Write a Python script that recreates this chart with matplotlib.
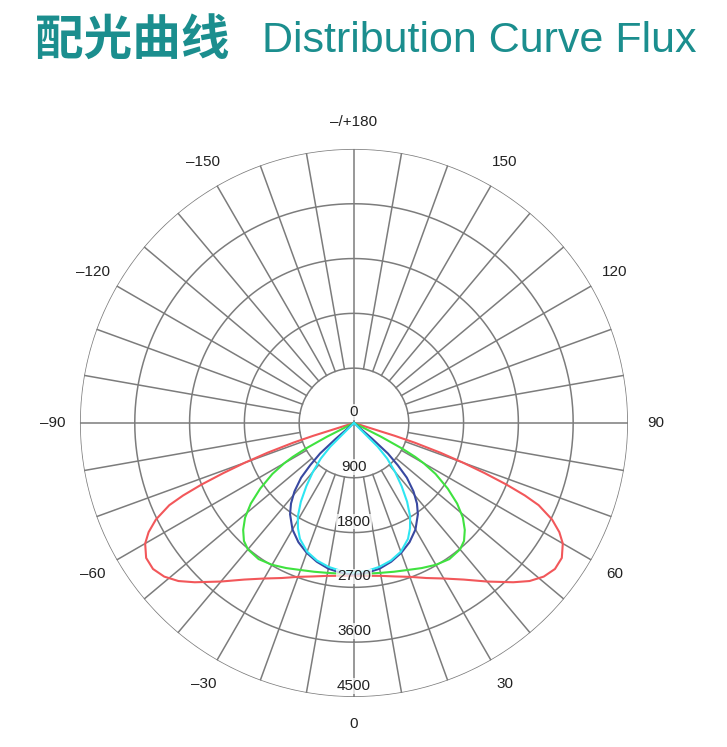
import numpy as np
import matplotlib
matplotlib.use("Agg")
import matplotlib.pyplot as plt

# luminous intensity (cd) vs angle from nadir, one half of each symmetric curve
red_ang = [0, 5, 10, 15, 20, 25, 30, 35, 40, 45, 48, 51, 54, 57, 60, 62, 64, 66, 67,
           68, 69, 70, 71, 72, 72.5, 73]
red_cd = [2510, 2520, 2550, 2610, 2690, 2810, 2950, 3140, 3400, 3700, 3880, 4010, 4080,
          4070, 3960, 3820, 3620, 3320, 3050, 2700, 2300, 1900, 1500, 1050, 700, 0]

green_ang = [0, 5, 10, 15, 20, 25, 30, 35, 40, 43, 46, 49, 52, 55, 58, 60, 61, 62, 63, 63.5]
green_cd = [2480, 2485, 2500, 2530, 2570, 2630, 2690, 2730, 2710, 2650, 2530, 2370, 2150,
            1880, 1580, 1320, 1150, 900, 500, 0]

blue_ang = [0, 5, 10, 15, 20, 25, 30, 35, 38, 41, 44, 46, 48, 49, 49.5]
blue_cd = [2490, 2470, 2430, 2360, 2270, 2160, 2020, 1830, 1680, 1490, 1250, 1000, 750, 400, 0]

cyan_ang = [0, 5, 10, 15, 20, 25, 28, 31, 34, 37, 40, 43, 45, 46.5]
cyan_cd = [2460, 2440, 2400, 2340, 2250, 2100, 1960, 1790, 1560, 1300, 1050, 800, 550, 0]

rings = [900, 1800, 2700, 3600, 4500]
ring_labels = ["0", "900", "1800", "2700", "3600", "4500"]
ang_ticks = [0, 30, 60, 90, 120, 150, 180, -150, -120, -90, -60, -30]
ang_labels = ["0", "30", "60", "90", "120", "150", "\u2013/+180",
              "\u2013150", "\u2013120", "\u201390", "\u201360", "\u201330"]

grid_col = "#7c7c7c"
teal = "#1b8e8e"

fig = plt.figure(figsize=(7.27, 7.47), dpi=100)
ax = fig.add_axes([0.110, 0.067, 0.7538, 0.7336], projection="polar")
ax.set_theta_zero_location("S")
ax.set_theta_direction(1)
ax.set_ylim(0, 4500)
ax.grid(False)
ax.set_xticks([])
ax.set_yticks([])
ax.spines["polar"].set_visible(False)

# grid: circles, spokes every 10 deg starting at the first ring, axes through the centre
t = np.linspace(0, 2 * np.pi, 721)
for r in rings:
    ax.plot(t, np.full_like(t, r), color=grid_col, lw=1.1, zorder=1)
for a in range(0, 360, 10):
    r0 = 0 if a % 90 == 0 else rings[0]
    ax.plot([np.deg2rad(a)] * 2, [r0, rings[-1]], color=grid_col, lw=1.1, zorder=1)

def mirror(ang, cd):
    a = np.array(ang, dtype=float)
    c = np.array(cd, dtype=float)
    full_a = np.concatenate([-a[::-1], a[1:]])
    full_c = np.concatenate([c[::-1], c[1:]])
    return np.deg2rad(full_a), full_c

for ang, cd, col in [(red_ang, red_cd, "#f2575a"),
                     (green_ang, green_cd, "#3fe23f"),
                     (blue_ang, blue_cd, "#3848a0"),
                     (cyan_ang, cyan_cd, "#2ee6f2")]:
    th, rr = mirror(ang, cd)
    ax.plot(th, rr, color=col, lw=1.5, zorder=3, solid_joinstyle="round")

# radial value labels, sitting just above each ring along the 0 direction
for v, lab in zip([0] + rings, ring_labels):
    ax.annotate(lab, xy=(0, v), xytext=(0, 11), textcoords="offset pixels",
                ha="center", va="center", fontsize=11, family="Liberation Sans",
                color="#222222", zorder=4,
                bbox=dict(boxstyle="square,pad=0.05", fc="white", ec="none", alpha=0.75))

for a, lab in zip(ang_ticks, ang_labels):
    ax.text(np.deg2rad(a), 4950, lab, ha="center", va="center", fontsize=11,
            family="Liberation Sans", color="#222222", clip_on=False)

fig.text(0.048, 0.945, "配光曲线", fontsize=35, fontweight="bold", color=teal,
         family=["Noto Sans CJK SC", "DejaVu Sans"], ha="left", va="center")
fig.text(0.360, 0.945, "Distribution Curve Flux", fontsize=31, color=teal,
         family="Liberation Sans", ha="left", va="center")

fig.savefig("out.png", dpi=100, facecolor="white")
